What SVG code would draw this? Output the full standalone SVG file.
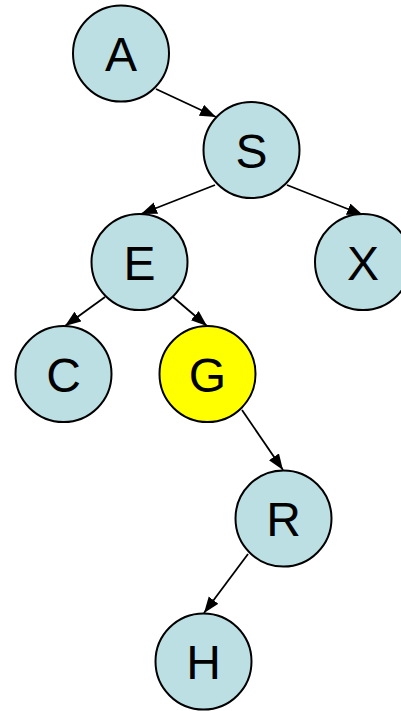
<svg xmlns="http://www.w3.org/2000/svg" width="401" height="711" viewBox="0 0 401 711">
<style>
.n circle{fill:#bbdfe2;stroke:#000;stroke-width:2}
.n.hl circle{fill:#ffff00}
.n text{font-family:"Liberation Sans",Arial,sans-serif;font-size:48px;text-anchor:middle;fill:#000}
.e line{stroke:#000;stroke-width:1.8;marker-end:url(#ah)}
</style>
<defs>
<marker id="ah" markerUnits="userSpaceOnUse" markerWidth="17" markerHeight="13" refX="16" refY="6" orient="auto">
<path d="M0,0 L16,6 L0,12 Z" fill="#000"/>
</marker>
</defs>
<rect width="401" height="711" fill="#fff"/>
<g id="edges" class="e">
<line x1="156" y1="89" x2="216" y2="117"/>
<line x1="215" y1="185" x2="141" y2="214"/>
<line x1="287" y1="185" x2="363" y2="215"/>
<line x1="105" y1="297" x2="65" y2="326"/>
<line x1="173" y1="297" x2="207" y2="326"/>
<line x1="242" y1="410" x2="283" y2="470"/>
<line x1="248" y1="554" x2="204" y2="613"/>
</g>
<g id="A" class="n"><circle cx="121" cy="53.5" r="48"/><text x="121" y="71">A</text></g>
<g id="S" class="n"><circle cx="251.5" cy="150" r="48"/><text x="251.5" y="167.5">S</text></g>
<g id="E" class="n"><circle cx="139.5" cy="262" r="48"/><text x="139.5" y="279.5">E</text></g>
<g id="X" class="n"><circle cx="363" cy="262" r="48"/><text x="363" y="279.5">X</text></g>
<g id="C" class="n"><circle cx="63.5" cy="374" r="48"/><text x="63.5" y="391.5">C</text></g>
<g id="G" class="n hl"><circle cx="207.5" cy="374" r="48"/><text x="207.5" y="391.5">G</text></g>
<g id="R" class="n"><circle cx="283.5" cy="518.5" r="48"/><text x="283.5" y="536">R</text></g>
<g id="H" class="n"><circle cx="203.5" cy="661.5" r="48"/><text x="203.5" y="679">H</text></g>
</svg>
